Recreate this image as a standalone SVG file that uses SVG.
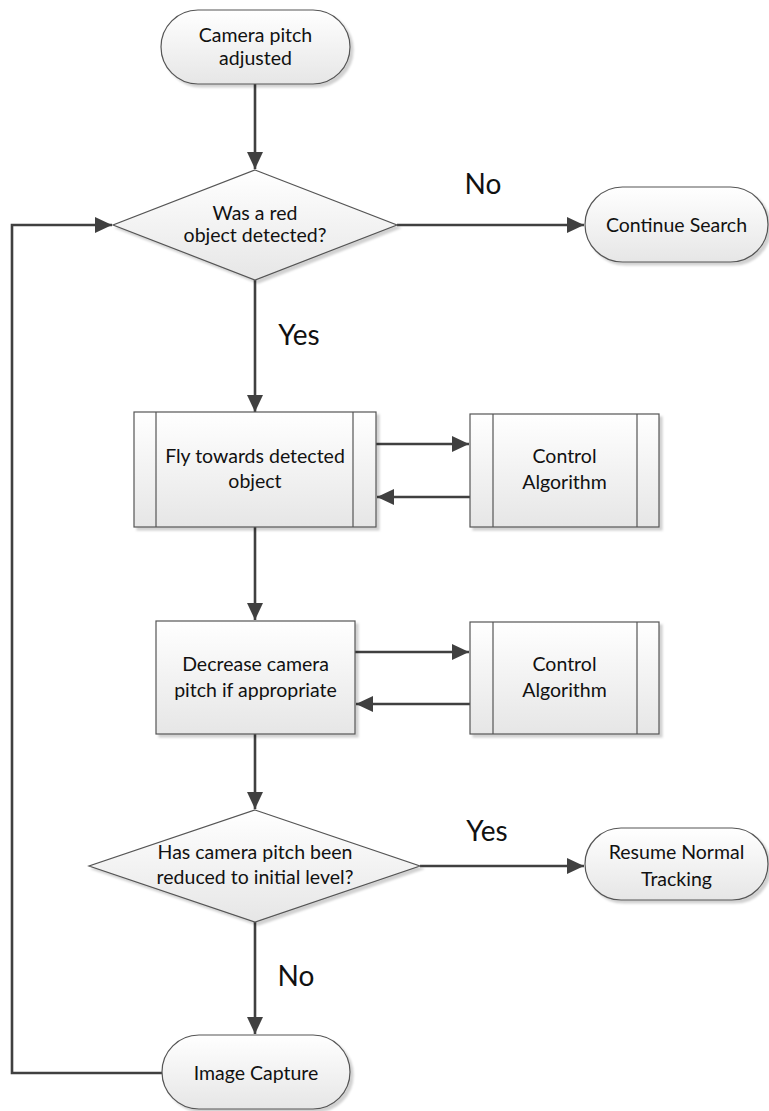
<svg xmlns="http://www.w3.org/2000/svg" width="769" height="1111" viewBox="0 0 769 1111">
  <defs>
    <linearGradient id="fillGrad" x1="0" y1="0" x2="0" y2="1">
      <stop offset="0" stop-color="#ffffff"/>
      <stop offset="1" stop-color="#e6e6e6"/>
    </linearGradient>
    <filter id="shadow" x="-10%" y="-10%" width="125%" height="130%">
      <feDropShadow dx="3" dy="3" stdDeviation="1.2" flood-color="#000" flood-opacity="0.18"/>
    </filter>
    <marker id="arrow" markerUnits="userSpaceOnUse" markerWidth="18" markerHeight="18" viewBox="0 0 18 18" refX="17" refY="9" orient="auto">
      <path d="M0,1 L17,9 L0,17 Z" fill="#404040"/>
    </marker>
  </defs>
  <style>
    .shape { fill: url(#fillGrad); stroke: #555; stroke-width: 1.2; filter: url(#shadow); }
    .inner { stroke: #555; stroke-width: 1.2; fill: none; }
    .txt { font-family: Lato, "Liberation Sans", sans-serif; font-size: 19.5px; fill: #111; text-anchor: middle; }
    .lbl { font-family: Lato, "Liberation Sans", sans-serif; font-size: 28px; fill: #111; text-anchor: middle; }
    .conn { fill: none; stroke: #404040; stroke-width: 2.6; }
    .arr { marker-end: url(#arrow); }
  </style>

  <!-- connectors -->
  <g id="connectors">
    <path class="conn arr" d="M255,84 V169"/>
    <path class="conn arr" d="M397,225 H584"/>
    <path class="conn arr" d="M255,280 V412"/>
    <path class="conn arr" d="M376,444 H469"/>
    <path class="conn arr" d="M470,497 H377"/>
    <path class="conn arr" d="M255,527 V620"/>
    <path class="conn arr" d="M355,652 H469"/>
    <path class="conn arr" d="M470,704 H356"/>
    <path class="conn arr" d="M255,734 V809"/>
    <path class="conn arr" d="M420,866 H584"/>
    <path class="conn arr" d="M255,922 V1034"/>
    <path class="conn arr" d="M162,1073 H12 V225 H112"/>
    <text class="lbl" x="483" y="194">No</text>
    <text class="lbl" x="299" y="345">Yes</text>
    <text class="lbl" x="487" y="841">Yes</text>
    <text class="lbl" x="296" y="986">No</text>
  </g>

  <g id="start">
    <rect class="shape" x="161" y="10" width="189" height="74" rx="37" ry="37"/>
    <text class="txt" x="255.5" y="42">Camera pitch</text>
    <text class="txt" x="255.5" y="65">adjusted</text>
  </g>

  <g id="decision-red">
    <polygon class="shape" points="255,170 397,225 255,280 113,225"/>
    <text class="txt" x="255" y="220">Was a red</text>
    <text class="txt" x="255" y="242">object detected?</text>
  </g>

  <g id="continue-search">
    <rect class="shape" x="585" y="187" width="183" height="75" rx="37.5" ry="37.5"/>
    <text class="txt" x="676.5" y="232">Continue Search</text>
  </g>

  <g id="fly-towards">
    <rect class="shape" x="134" y="412" width="242" height="115"/>
    <line class="inner" x1="156" y1="412" x2="156" y2="527"/>
    <line class="inner" x1="353" y1="412" x2="353" y2="527"/>
    <text class="txt" x="255" y="463">Fly towards detected</text>
    <text class="txt" x="255" y="488">object</text>
  </g>

  <g id="control-1">
    <rect class="shape" x="470" y="414" width="189" height="113"/>
    <line class="inner" x1="493" y1="414" x2="493" y2="527"/>
    <line class="inner" x1="637" y1="414" x2="637" y2="527"/>
    <text class="txt" x="564.5" y="463">Control</text>
    <text class="txt" x="564.5" y="489">Algorithm</text>
  </g>

  <g id="decrease-pitch">
    <rect class="shape" x="156" y="621" width="199" height="113"/>
    <text class="txt" x="255.5" y="671">Decrease camera</text>
    <text class="txt" x="255.5" y="697">pitch if appropriate</text>
  </g>

  <g id="control-2">
    <rect class="shape" x="470" y="622" width="189" height="112"/>
    <line class="inner" x1="493" y1="622" x2="493" y2="734"/>
    <line class="inner" x1="637" y1="622" x2="637" y2="734"/>
    <text class="txt" x="564.5" y="671">Control</text>
    <text class="txt" x="564.5" y="697">Algorithm</text>
  </g>

  <g id="decision-pitch">
    <polygon class="shape" points="255,810 420,866 255,922 89,866"/>
    <text class="txt" x="255" y="859">Has camera pitch been</text>
    <text class="txt" x="255" y="884">reduced to initial level?</text>
  </g>

  <g id="resume-tracking">
    <rect class="shape" x="585" y="828" width="183" height="72" rx="36" ry="36"/>
    <text class="txt" x="676.5" y="859">Resume Normal</text>
    <text class="txt" x="676.5" y="886">Tracking</text>
  </g>

  <g id="image-capture">
    <rect class="shape" x="162" y="1035" width="188" height="74" rx="37" ry="37"/>
    <text class="txt" x="256" y="1080">Image Capture</text>
  </g>
</svg>
